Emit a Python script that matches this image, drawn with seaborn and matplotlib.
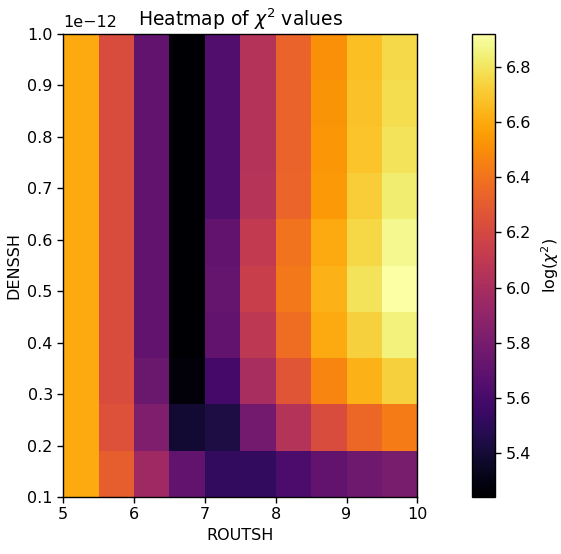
import numpy as np
import pandas as pd
import matplotlib
matplotlib.use("Agg")
import matplotlib.pyplot as plt
import seaborn as sns

# ROUTSH column edges (10 columns) and DENSSH row edges (10 rows, x1e-12)
routsh_edges = [5.0, 5.5, 6.0, 6.5, 7.0, 7.5, 8.0, 8.5, 9.0, 9.5, 10.0]
denssh_edges = [0.10, 0.19, 0.28, 0.37, 0.46, 0.55, 0.64, 0.73, 0.82, 0.91, 1.00]

# log(chi^2) values, rows ordered from top (DENSSH=1.0) to bottom (DENSSH=0.1)
row_10 = [6.60, 6.22, 5.70, 5.24, 5.635, 6.05, 6.33, 6.51, 6.67, 6.76]
row_9  = [6.60, 6.22, 5.70, 5.24, 5.635, 6.05, 6.33, 6.52, 6.68, 6.77]
row_8  = [6.60, 6.22, 5.70, 5.24, 5.635, 6.05, 6.33, 6.53, 6.69, 6.79]
row_7  = [6.60, 6.22, 5.70, 5.24, 5.64, 6.06, 6.34, 6.54, 6.72, 6.83]
row_6  = [6.60, 6.22, 5.70, 5.24, 5.70, 6.11, 6.40, 6.60, 6.75, 6.88]
row_5  = [6.60, 6.22, 5.70, 5.24, 5.72, 6.14, 6.42, 6.63, 6.79, 6.92]
row_4  = [6.60, 6.22, 5.70, 5.24, 5.70, 6.09, 6.37, 6.60, 6.73, 6.85]
row_3  = [6.60, 6.22, 5.74, 5.27, 5.59, 6.00, 6.27, 6.47, 6.63, 6.73]
row_2  = [6.60, 6.25, 5.83, 5.39, 5.44, 5.78, 6.05, 6.22, 6.35, 6.43]
row_1  = [6.60, 6.315, 5.96, 5.70, 5.52, 5.52, 5.62, 5.70, 5.76, 5.80]

x_ticks = [5, 6, 7, 8, 9, 10]
y_ticks = [0.1, 0.2, 0.3, 0.4, 0.5, 0.6, 0.7, 0.8, 0.9, 1.0]
cbar_ticks = [5.4, 5.6, 5.8, 6.0, 6.2, 6.4, 6.6, 6.8]

data = pd.DataFrame([row_10, row_9, row_8, row_7, row_6,
                     row_5, row_4, row_3, row_2, row_1])

fs = 11.5
plt.rcParams["font.family"] = ["DejaVu Sans"]
plt.rcParams["font.size"] = fs

fig = plt.figure(figsize=(5.61, 5.54), dpi=100)
ax = fig.add_axes([0.1128, 0.1029, 0.6311, 0.8357])
cax = fig.add_axes([0.8408, 0.1029, 0.0415, 0.8357])

sns.heatmap(data, ax=ax, cbar_ax=cax, cmap="inferno",
            vmin=min(data.min()), vmax=max(data.max()),
            xticklabels=False, yticklabels=False,
            cbar_kws={"ticks": cbar_ticks})

nx = len(routsh_edges) - 1
ny = len(denssh_edges) - 1
x0, x1 = routsh_edges[0], routsh_edges[-1]
y0, y1 = denssh_edges[0], denssh_edges[-1]
xpos = [(v - x0) / (x1 - x0) * nx for v in x_ticks]
ypos = [(y1 - v) / (y1 - y0) * ny for v in y_ticks]
ax.set_xticks(xpos)
ax.set_xticklabels([str(v) for v in x_ticks], rotation=0, fontsize=fs)
ax.set_yticks(ypos)
ax.set_yticklabels([f"{v:.1f}" for v in y_ticks], rotation=0, fontsize=fs)
ax.tick_params(direction="out", length=4, width=1, colors="black")

for s in ax.spines.values():
    s.set_visible(True)
    s.set_linewidth(1.0)
    s.set_color("black")

ax.set_xlabel("ROUTSH", fontsize=fs)
ax.set_ylabel("DENSSH", fontsize=fs)
ax.set_title(r"Heatmap of $\chi^2$ values", fontsize=13.5, pad=6)
ax.text(0.0, 1.008, "1e\u221212", transform=ax.transAxes,
        ha="left", va="bottom", fontsize=fs)

cb = ax.collections[0].colorbar
cb.outline.set_visible(True)
cb.outline.set_linewidth(1.0)
cb.outline.set_edgecolor("black")
cax.tick_params(labelsize=fs, length=4, width=1)
cb.set_label(r"log($\chi^2$)", fontsize=fs, labelpad=6)

fig.savefig("out.png", dpi=100)
